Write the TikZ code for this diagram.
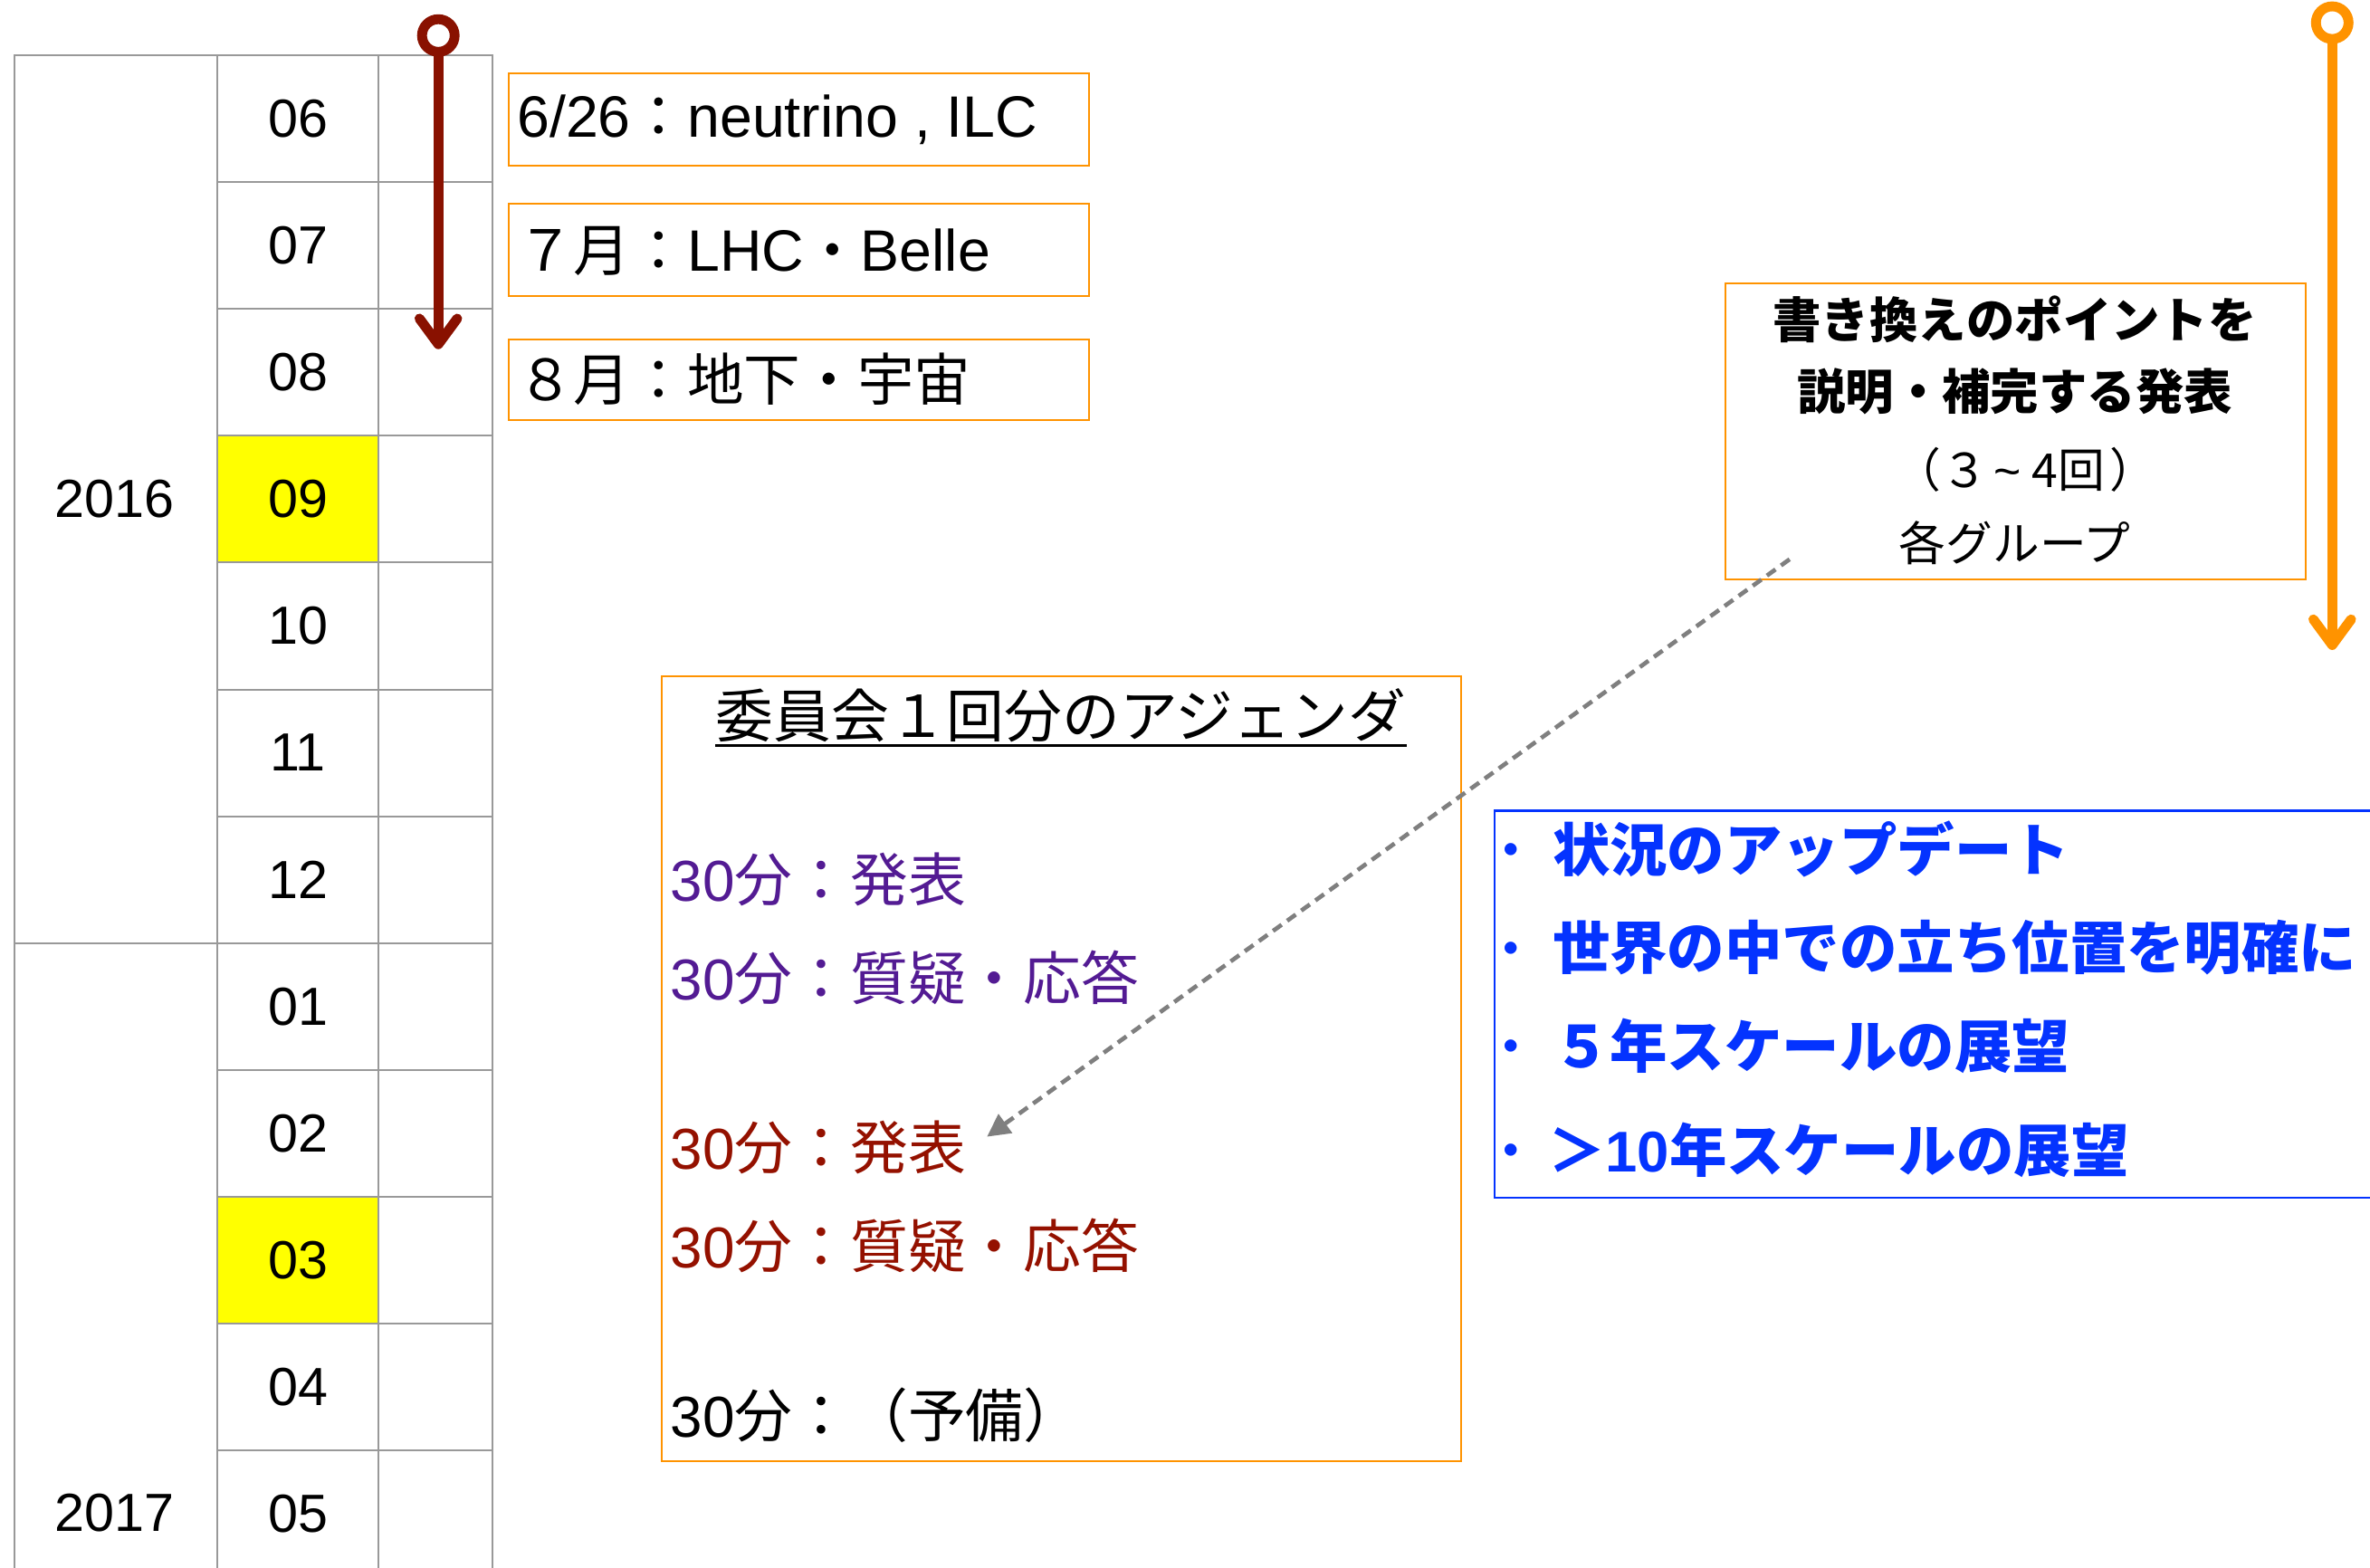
\documentclass[tikz,border=0pt]{standalone}
\usepackage{fontspec}
\setmainfont{Noto Sans CJK JP}
\newfontfamily\lat{Liberation Sans}
\usetikzlibrary{arrows.meta}
\definecolor{korange}{HTML}{FF9300}
\definecolor{kred}{HTML}{891100}
\definecolor{kpurple}{HTML}{531B93}
\definecolor{kdred}{HTML}{941100}
\definecolor{kblue}{HTML}{0433FF}
\definecolor{kgrid}{HTML}{999999}
\definecolor{kgray}{HTML}{7F7F7F}
\definecolor{kyellow}{HTML}{FFFF00}
\newcommand\latbig[1]{{\lat\fontsize{38.6}{44}\selectfont #1}}
\begin{document}
\begin{tikzpicture}[x=1pt,y=-1pt,
  cell/.style={draw=kgrid, line width=1.2pt, inner sep=0pt, anchor=north west, minimum height=83.9pt},
  monthtxt/.style={font=\lat\fontsize{35.5}{40}\selectfont},
  obox/.style={draw=korange, line width=1.2pt, inner sep=0pt, anchor=north west},
  btxt/.style={inner sep=0pt, anchor=west, font=\fontsize{37.5}{44}\selectfont},
  ptxt/.style={inner sep=0pt, font=\fontsize{31}{36}\selectfont},
  pbold/.style={inner sep=0pt, font=\bfseries\fontsize{32}{36}\selectfont},
  atxt/.style={inner sep=0pt, anchor=west, font=\fontsize{38.2}{44}\selectfont},
  bluetxt/.style={inner sep=0pt, anchor=west, text=kblue, font=\bfseries\fontsize{38}{44}\selectfont},
  bulletdot/.style={inner sep=0pt, anchor=base, text=kblue, font=\fontsize{38}{44}\selectfont},
  ringarrow/.style={line width=6.5pt, -{Straight Barb[length=17pt,width=25pt,round]}}
]
\useasboundingbox (0,0) rectangle (1568,1037);

% ---- table ----
\node[cell, minimum width=134pt, minimum height=587.3pt] (ycell16) at (9,36) {};
\node[cell, minimum width=134pt, minimum height=500pt] (ycell17) at (9,623.3) {};
\foreach \m/\c [count=\i from 0] in {06/white,07/white,08/white,09/kyellow,10/white,11/white,12/white,01/white,02/white,03/kyellow,04/white,05/white}{
  \pgfmathsetmacro\yy{36+83.9*\i}
  \node[cell, minimum width=107pt, fill=\c, monthtxt] (mon\i) at (143,\yy) {\m};
  \node[cell, minimum width=75pt] (blk\i) at (250,\yy) {};
}
\node[monthtxt, inner sep=0pt] (y16) at (76,330) {2016};
\node[monthtxt, inner sep=0pt] (y17) at (76,1001) {2017};

% ---- dark red arrow ----
\coordinate (rtop) at (290,23.5);
\coordinate (rtip) at (290,231);
\draw[kred, line width=6.5pt, fill=white] (rtop) circle[radius=10.8pt];
\draw[kred, ringarrow] ([yshift=-10.8pt]rtop) -- (rtip);

% ---- orange arrow ----
\coordinate (otop) at (1543,15);
\coordinate (otip) at (1543,430);
\draw[korange, line width=6.5pt, fill=white] (otop) circle[radius=10.8pt];
\draw[korange, ringarrow] ([yshift=-10.8pt]otop) -- (otip);

% ---- schedule boxes ----
\node[obox, minimum width=384pt, minimum height=61pt] (b1) at (336,48) {};
\node[btxt] (t1) at (342,79.5) {\latbig{6/26}：\latbig{neutrino , ILC}};
\node[obox, minimum width=384pt, minimum height=61pt] (b2) at (336,134) {};
\node[btxt] (t2) at (342,166) {７月：\latbig{LHC}・\latbig{Belle}};
\node[obox, minimum width=384pt, minimum height=53pt] (b3) at (336,224) {};
\node[btxt] (t3) at (342,251) {８月：地下・宇宙};

% ---- presentation box ----
\node[obox, minimum width=384pt, minimum height=196pt] (b4) at (1141,187) {};
\node[pbold] (p1) at (1333,211) {書き換えのポイントを};
\node[pbold] (p2) at (1333,259) {説明・補完する発表};
\node[ptxt] (p3) at (1340,311) {（３\hspace{4pt}{\lat\textasciitilde}\hspace{7pt}4回\hspace{3pt}）};
\node[ptxt] (p4) at (1333,359) {各グループ};

% ---- agenda box ----
\node[obox, minimum width=529pt, minimum height=519pt] (b5) at (437,447) {};
\node[inner sep=0pt, font=\fontsize{38.2}{44}\selectfont] (title) at (702,473) {委員会１回分のアジェンダ};
\draw[line width=1.7pt] ([yshift=-2pt]title.south west) -- ([yshift=-2pt]title.south east);
\node[atxt, text=kpurple] (a1) at (443.5,582) {{\lat 30}分：発表};
\node[atxt, text=kpurple] (a2) at (443.5,647) {{\lat 30}分：質疑・応答};
\node[atxt, text=kdred] (a3) at (443.5,759) {{\lat 30}分：発表};
\node[atxt, text=kdred] (a4) at (443.5,824) {{\lat 30}分：質疑・応答};
\node[atxt] (a5) at (443.5,936) {{\lat 30}分：（予備）};

% ---- blue box ----
\node[draw=kblue, line width=1.5pt, inner sep=0pt, anchor=north west, minimum width=700pt, minimum height=256pt] (b6) at (988,535.5) {};
\node[bulletdot] (d1) at (1000,576.5) {・};
\node[bulletdot] (d2) at (1000,641.5) {・};
\node[bulletdot] (d3) at (1000,706.5) {・};
\node[bulletdot] (d4) at (1000,775.5) {・};
\node[bluetxt] (l1) at (1027,562) {状況のアップデート};
\node[bluetxt] (l2) at (1027,627) {世界の中での立ち位置を明確に};
\node[bluetxt] (l3) at (1027,692) {５年スケールの展望};
\node[bluetxt] (l4) at (1024,761) {＞{\lat 10}年スケールの展望};

% ---- dashed connector ----
\coordinate (gs) at (1184,370);
\coordinate (ge) at (653,752);
\draw[kgray, line width=2.8pt, dash pattern=on 7pt off 4.5pt, -{Triangle[length=15pt,width=15pt]}] (gs) -- (ge);
\end{tikzpicture}
\end{document}
